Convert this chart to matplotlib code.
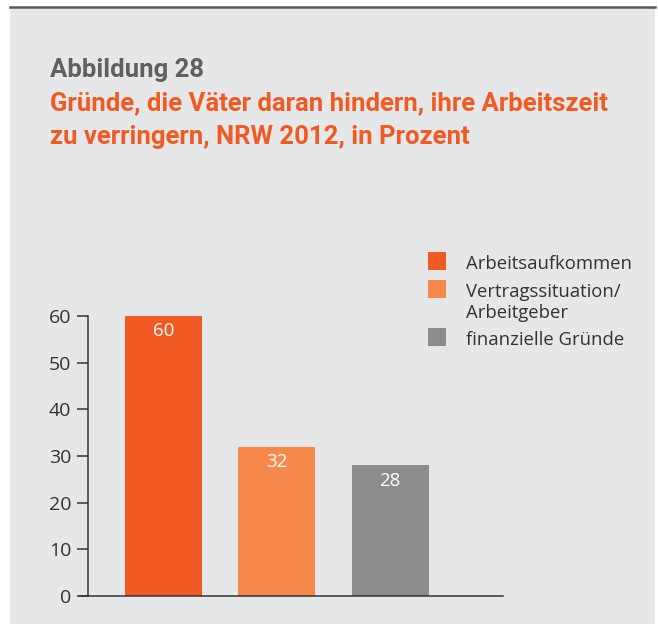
import matplotlib
matplotlib.use("Agg")
import matplotlib.pyplot as plt
from matplotlib.patches import Rectangle
from matplotlib.lines import Line2D

categories = ["Arbeitsaufkommen", "Vertragssituation/\nArbeitgeber", "finanzielle Gründe"]
values = [60, 32, 28]
colors = ["#f15a22", "#f6894b", "#8b8c8e"]
yticks = [0, 10, 20, 30, 40, 50, 60]

W, H = 658, 624
fig = plt.figure(figsize=(W / 100, H / 100), dpi=100, facecolor="white")

# grey panel + dark top rule
fig.patches.append(Rectangle((10 / W, 0), 645 / W, (H - 8) / H, transform=fig.transFigure,
                             facecolor="#e6e7e8", edgecolor="none", zorder=-5))
fig.lines.append(Line2D([10 / W, 655 / W], [1 - 7 / H, 1 - 7 / H], transform=fig.transFigure,
                        color="#58595b", linewidth=1.8, zorder=-4))

title_font = ["Roboto", "DejaVu Sans"]
body_font = ["Open Sans", "DejaVu Sans"]
text_col = "#333335"

fig.text(50 / W, 1 - 70 / H, "Abbildung 28", family=title_font, weight="bold",
         fontsize=18.5, color="#5f6062", va="center")
fig.text(50 / W, 1 - 103 / H, "Gründe, die Väter daran hindern, ihre Arbeitszeit",
         family=title_font, weight="bold", fontsize=18.5, color="#f15a22", va="center")
fig.text(50 / W, 1 - 137 / H, "zu verringern, NRW 2012, in Prozent",
         family=title_font, weight="bold", fontsize=18.5, color="#f15a22", va="center")

ax = fig.add_axes([88 / W, (H - 596) / H, 415 / W, 280 / H])
ax.set_facecolor("none")
x = list(range(len(values)))
ax.bar(x, values, width=0.68, color=colors, zorder=2)
ax.set_xlim(-0.665, 2.996)
ax.set_ylim(0, 60)
for xi, v in zip(x, values):
    ax.text(xi, v - 3.3, str(v), ha="center", va="center", color="white",
            fontsize=13.5, family=body_font, zorder=3)

for s in ["top", "right"]:
    ax.spines[s].set_visible(False)
ax.spines["left"].set_color(text_col)
ax.spines["bottom"].set_color(text_col)
ax.spines["left"].set_linewidth(1.1)
ax.spines["bottom"].set_linewidth(1.1)
# bottom rule reaches a bit left of the y axis
ax.plot([-8 / 415, 0], [0, 0], transform=ax.transAxes, color=text_col,
        linewidth=1.1, clip_on=False)
ax.set_xticks([])
ax.set_yticks(yticks)
ax.tick_params(axis="y", length=8, width=1.1, color=text_col, pad=4,
               labelsize=14, labelcolor=text_col)
for lab in ax.get_yticklabels():
    lab.set_family(body_font)

# legend, squares aligned with first text line
leg_tops = [252, 280, 328]
for top, lab, c in zip(leg_tops, categories, colors):
    fig.patches.append(Rectangle((428 / W, 1 - (top + 18) / H), 18 / W, 18 / H,
                                 transform=fig.transFigure, facecolor=c, edgecolor="none"))
    fig.text(466 / W, 1 - (top + 3) / H, lab, family=body_font, fontsize=13.3,
             color=text_col, va="top", linespacing=1.2)

fig.savefig("out.png", dpi=100, facecolor="white")
